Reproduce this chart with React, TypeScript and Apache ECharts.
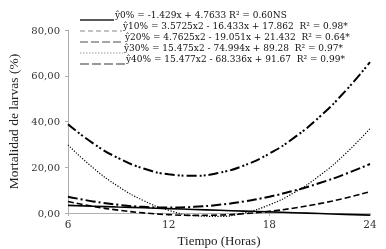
import React, { useEffect, useRef } from "react";
import * as echarts from "echarts";

const hours = [6, 7.5, 9, 10.5, 12, 13.5, 15, 16.5, 18, 19.5, 21, 22.5, 24];
const s0 = [3.33, 2.98, 2.62, 2.27, 1.91, 1.55, 1.19, 0.84, 0.48, 0.12, -0.24, -0.59, -0.95];
const s10 = [5.0, 2.9, 1.25, 0.05, -0.71, -1.03, -0.89, -0.31, 0.72, 2.19, 4.11, 6.48, 9.29];
const s20 = [7.14, 5.06, 3.57, 2.68, 2.38, 2.68, 3.57, 5.06, 7.14, 9.82, 13.09, 16.96, 21.43];
const s30 = [29.76, 19.72, 11.61, 5.43, 1.19, -1.12, -1.49, 0.08, 3.57, 9.0, 16.37, 25.67, 36.9];
const s40 = [38.81, 30.43, 23.99, 19.48, 16.91, 16.27, 17.56, 20.79, 25.96, 33.05, 42.09, 53.06, 65.96];
const legendTexts = [
  "ŷ0% = -1.429x + 4.7633 R² = 0.60NS",
  "ŷ10% = 3.5725x2 - 16.433x + 17.862  R² = 0.98*",
  "ŷ20% = 4.7625x2 - 19.051x + 21.432  R² = 0.64*",
  "ŷ30% = 15.475x2 - 74.994x + 89.28  R² = 0.97*",
  "ŷ40% = 15.477x2 - 68.336x + 91.67  R² = 0.99*",
];

const SERIF = "'Liberation Serif', serif";
const DSERIF = "'DejaVu Serif', serif";

export default function App() {
  const ref = useRef<HTMLDivElement>(null);
  useEffect(() => {
    if (!ref.current) return;
    const chart = echarts.init(ref.current, undefined, { renderer: "svg" });
    const dashes: any[] = [
      "solid",
      [6, 3],
      [10, 3, 2, 3],
      [1.2, 1.6],
      [10, 3, 2, 2, 2, 3],
    ];
    const widths = [1.6, 1.6, 2, 1.2, 2];
    const data = [s0, s10, s20, s30, s40];
    const rowY = [15, 26, 37, 48, 59];
    const textX = [115, 123, 125, 124, 126];
    const keyStyles: any[] = [
      { stroke: "#222", lineWidth: 1.6 },
      { stroke: "#888", lineWidth: 1.2, lineDash: [5, 3] },
      { stroke: "#888", lineWidth: 1.4, lineDash: [8, 3] },
      { stroke: "#999", lineWidth: 1.2, lineDash: [1.5, 1.5] },
      { stroke: "#777", lineWidth: 1.6, lineDash: [9, 3] },
    ];
    const graphic: any[] = [];
    legendTexts.forEach((t, i) => {
      graphic.push({
        type: "line",
        shape: { x1: 80, y1: rowY[i] + 5, x2: textX[i] - 1, y2: rowY[i] + 5 },
        style: keyStyles[i],
      });
      graphic.push({
        type: "text",
        x: textX[i],
        y: rowY[i],
        style: {
          text: t,
          fontFamily: DSERIF,
          fontSize: 9,
          fill: "#111",
          verticalAlign: "middle",
        },
      });
    });
    chart.setOption({
      animation: false,
      grid: {
        left: 68,
        right: 16,
        top: 30,
        bottom: 36,
        outerBoundsMode: "none",
        containLabel: false,
      },
      xAxis: {
        type: "value",
        min: 6,
        max: 24,
        interval: 6,
        axisLine: { show: true, lineStyle: { color: "#b0b0b0", width: 1 } },
        axisTick: { show: true, length: 3, lineStyle: { color: "#b0b0b0" } },
        splitLine: { show: false },
        axisLabel: { color: "#333", fontFamily: DSERIF, fontSize: 10.5, margin: 5 },
        name: "Tiempo (Horas)",
        nameLocation: "middle",
        nameGap: 18,
        nameTextStyle: { color: "#222", fontFamily: SERIF, fontSize: 13 },
      },
      yAxis: {
        type: "value",
        min: 0,
        max: 80,
        interval: 20,
        axisLine: { show: true, lineStyle: { color: "#b0b0b0", width: 1 } },
        axisTick: { show: true, length: 3, lineStyle: { color: "#b0b0b0" } },
        splitLine: { show: false },
        axisLabel: {
          color: "#333",
          fontFamily: DSERIF,
          fontSize: 10,
          margin: 8,
          formatter: (v: number) => v.toFixed(2).replace(".", ","),
        },
        name: "Mortalidad de larvas (%)",
        nameLocation: "middle",
        nameGap: 48,
        nameTextStyle: { color: "#222", fontFamily: SERIF, fontSize: 13.5 },
      },
      graphic,
      series: data.map((d, i) => ({
        type: "line",
        smooth: true,
        showSymbol: false,
        clip: false,
        data: hours.map((h, j) => [h, d[j]]),
        lineStyle: { color: "#000", width: widths[i], type: dashes[i] },
        z: 3,
      })),
    });
    return () => chart.dispose();
  }, []);
  return (
    <div
      ref={ref}
      style={{ position: "fixed", left: 0, top: 0, width: 386, height: 249 }}
    />
  );
}
